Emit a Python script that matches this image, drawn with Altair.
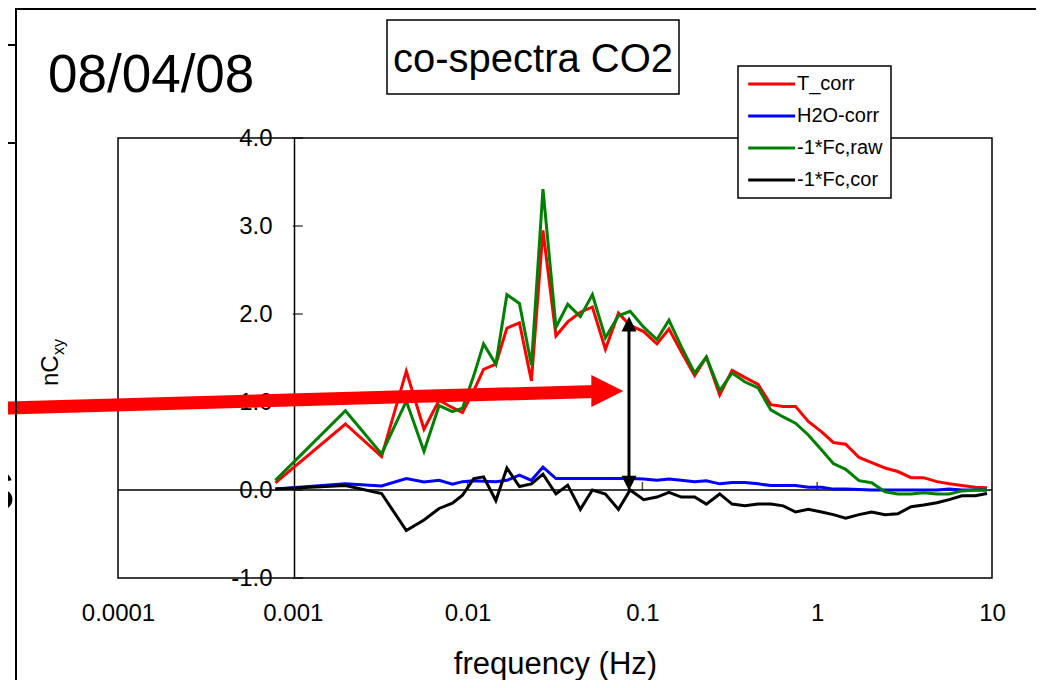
import altair as alt
import pandas as pd

# ---------------- data ----------------
freq = [0.000795, 0.00200, 0.00322, 0.00446, 0.00563, 0.00687, 0.00819, 0.00935, 0.01085, 0.01234,
        0.01451, 0.01678, 0.01979, 0.02318, 0.02699, 0.03203, 0.03739, 0.04417, 0.05175, 0.06143,
        0.07295, 0.08511, 0.1017, 0.1211, 0.1419, 0.1669, 0.1990, 0.2322, 0.2768, 0.3260,
        0.3849, 0.4595, 0.5425, 0.6391, 0.7517, 0.8892, 1.060, 1.237, 1.455, 1.734,
        2.050, 2.444, 2.891, 3.446, 4.059, 4.838, 5.691, 6.730, 8.020, 9.361]

t_corr = [0.08, 0.75, 0.38, 1.35, 0.69, 1.02, 0.935, 0.88, 1.13, 1.37,
          1.43, 1.84, 1.90, 1.24, 2.95, 1.75, 1.91, 2.02, 2.08, 1.60,
          2.01, 1.87, 1.80, 1.66, 1.83, 1.57, 1.30, 1.51, 1.08, 1.36,
          1.28, 1.20, 0.97, 0.95, 0.95, 0.78, 0.66, 0.54, 0.52, 0.37,
          0.31, 0.25, 0.21, 0.14, 0.14, 0.095, 0.07, 0.05, 0.03, 0.025]

h2o_corr = [0.01, 0.07, 0.045, 0.13, 0.09, 0.11, 0.065, 0.095, 0.105, 0.10,
            0.095, 0.11, 0.17, 0.11, 0.26, 0.13, 0.13, 0.13, 0.13, 0.13,
            0.13, 0.13, 0.125, 0.11, 0.125, 0.11, 0.095, 0.105, 0.07, 0.085,
            0.085, 0.07, 0.05, 0.05, 0.05, 0.03, 0.03, 0.01, 0.01, 0.005,
            0.0, 0.0, 0.0, 0.0, 0.0, 0.0, 0.01, 0.0, 0.0, 0.0]

fc_raw = [0.11, 0.90, 0.41, 1.01, 0.44, 0.96, 0.89, 0.93, 1.30, 1.66,
          1.43, 2.22, 2.12, 1.42, 3.42, 1.85, 2.11, 1.97, 2.22, 1.73,
          1.98, 2.03, 1.85, 1.71, 1.93, 1.63, 1.33, 1.51, 1.13, 1.33,
          1.23, 1.16, 0.91, 0.83, 0.76, 0.625, 0.455, 0.30, 0.235, 0.106,
          0.083, -0.02, -0.045, -0.045, -0.03, -0.045, -0.045, -0.01, 0.0, 0.0]

fc_cor = [0.01, 0.05, -0.04, -0.46, -0.34, -0.21, -0.15, -0.06, 0.13, 0.15,
          -0.12, 0.25, 0.04, 0.07, 0.18, -0.045, 0.055, -0.22, 0.0, -0.045,
          -0.22, 0.0, -0.11, -0.08, -0.027, -0.08, -0.08, -0.16, -0.045, -0.16,
          -0.18, -0.16, -0.16, -0.18, -0.25, -0.22, -0.25, -0.28, -0.32, -0.28,
          -0.25, -0.28, -0.27, -0.19, -0.17, -0.145, -0.11, -0.065, -0.065, -0.04]

series_names = ["T_corr", "H2O-corr", "-1*Fc,raw", "-1*Fc,cor"]
series_colors = ["#ff0000", "#0000ff", "#008000", "#000000"]

x_tick_values = [0.0001, 0.001, 0.01, 0.1, 1, 10]
y_tick_values = [-1, 0, 1, 2, 3, 4]
x_inner_ticks = [0.01, 0.1, 1]

# annotation arrows (in data coordinates)
red_arrow_freq = [0.000021, 0.0544]
red_arrow_val = [0.93, 1.12]
red_head_freq = [0.0630]
red_head_val = [1.125]
black_arrow_freq = [0.0838, 0.0838]
black_arrow_val = [1.90, 0.07]
black_head_top = [1.885]
black_head_bottom = [0.077]

FONT = "Liberation Sans"

# ---------------- tables ----------------
rows = []
for name, vals in zip(series_names, [t_corr, h2o_corr, fc_raw, fc_cor]):
    for f, v in zip(freq, vals):
        rows.append({"freq": f, "value": v, "series": name})
df = pd.DataFrame(rows)

xscale = alt.Scale(type="log", domain=[0.0001, 10], nice=False)
yscale = alt.Scale(domain=[-1, 4], nice=False)

xaxis = alt.Axis(values=x_tick_values, format=".4~f", domain=False, ticks=False, grid=False,
                 labelPadding=23, labelFontSize=24, labelFlush=False, labelColor="black",
                 title="frequency (Hz)", titleFontSize=31, titleFontWeight="normal",
                 titlePadding=24, titleColor="black")
yaxis = alt.Axis(values=y_tick_values, offset=-176, ticks=False, grid=False,
                 domainColor="black", domainWidth=1.5, labelPadding=22, labelFontSize=24,
                 labelFlush=False, labelColor="black", title=None,
                 labelExpr="datum.value < 0 ? '-' + format(-datum.value, '.1f') : format(datum.value, '.1f')")

X = alt.X("freq:Q", scale=xscale, axis=xaxis)
Y = alt.Y("value:Q", scale=yscale, axis=yaxis)

lines = alt.Chart(df).mark_line(strokeWidth=3, clip=False).encode(
    x=X, y=Y,
    color=alt.Color("series:N", sort=series_names,
                    scale=alt.Scale(domain=series_names, range=series_colors),
                    legend=alt.Legend(title=None, orient="none", legendX=620, legendY=-72,
                                      symbolType="M-1,0L5,0", symbolSize=245,
                                      symbolStrokeWidth=3, labelFontSize=20, labelOffset=31,
                                      padding=8, strokeColor="black", fillColor="white",
                                      rowPadding=12, labelLimit=0, labelColor="black")),
)

zero_rule = alt.Chart(pd.DataFrame({"value": [0]})).mark_rule(color="black", strokeWidth=1.5).encode(y=Y)

xt = alt.Chart(pd.DataFrame({"freq": x_inner_ticks, "value": [0] * len(x_inner_ticks)})).mark_tick(
    orient="vertical", size=8, yOffset=-4, thickness=1.5, color="black").encode(x=X, y=Y)
yt = alt.Chart(pd.DataFrame({"freq": [0.001] * len(y_tick_values), "value": y_tick_values})).mark_tick(
    orient="horizontal", size=10, xOffset=5, thickness=1.5, color="black").encode(x=X, y=Y)

red_shaft = alt.Chart(pd.DataFrame({"freq": red_arrow_freq, "value": red_arrow_val})).mark_line(
    color="#ff0000", strokeWidth=13, clip=False).encode(x=X, y=Y)
red_head = alt.Chart(pd.DataFrame({"freq": red_head_freq, "value": red_head_val})).mark_point(
    shape="M-1,-1L1,0L-1,1Z", size=1024, filled=True, color="#ff0000", opacity=1).encode(x=X, y=Y)

black_shaft = alt.Chart(pd.DataFrame({"freq": black_arrow_freq, "value": black_arrow_val})).mark_line(
    color="black", strokeWidth=3).encode(x=X, y=Y)
black_head1 = alt.Chart(pd.DataFrame({"freq": [black_arrow_freq[0]], "value": black_head_top})).mark_point(
    shape="M0,-1L1,1L-1,1Z", size=225, filled=True, color="black", opacity=1).encode(x=X, y=Y)
black_head2 = alt.Chart(pd.DataFrame({"freq": [black_arrow_freq[0]], "value": black_head_bottom})).mark_point(
    shape="M0,1L1,-1L-1,-1Z", size=225, filled=True, color="black", opacity=1).encode(x=X, y=Y)

one = pd.DataFrame({"k": [0]})

title_box = alt.Chart(one).mark_rect(fill="white", stroke="black", strokeWidth=1.5).encode(
    x=alt.value(269), x2=alt.value(561), y=alt.value(-118), y2=alt.value(-44))
title_text = alt.Chart(pd.DataFrame({"t": ["co-spectra CO2"]})).mark_text(
    fontSize=40, font=FONT, align="center", baseline="alphabetic", color="black").encode(
    text="t:N", x=alt.value(415), y=alt.value(-66))
date_text = alt.Chart(pd.DataFrame({"t": ["08/04/08"]})).mark_text(
    fontSize=53, font=FONT, align="left", baseline="alphabetic", color="black").encode(
    text="t:N", x=alt.value(-70), y=alt.value(-46))
ylab1 = alt.Chart(pd.DataFrame({"t": ["nC"]})).mark_text(
    fontSize=24, font=FONT, align="left", baseline="alphabetic", angle=270, color="black").encode(
    text="t:N", x=alt.value(-60), y=alt.value(248))
ylab2 = alt.Chart(pd.DataFrame({"t": ["xy"]})).mark_text(
    fontSize=16, font=FONT, align="left", baseline="alphabetic", angle=270, color="black").encode(
    text="t:N", x=alt.value(-54), y=alt.value(217))
big_s = alt.Chart(pd.DataFrame({"t": ["S"]})).mark_text(
    fontSize=55, font=FONT, align="right", baseline="alphabetic", color="black").encode(
    text="t:N", x=alt.value(-103), y=alt.value(372))

frame_v = alt.Chart(one).mark_rule(color="black", strokeWidth=2).encode(
    x=alt.value(-102), y=alt.value(-131), y2=alt.value(560))
frame_top = alt.Chart(one).mark_rule(color="black", strokeWidth=2).encode(
    x=alt.value(-102), x2=alt.value(930), y=alt.value(-129))
frame_h1 = alt.Chart(one).mark_rule(color="black", strokeWidth=2).encode(
    x=alt.value(-120), x2=alt.value(-102), y=alt.value(-93))
frame_h2 = alt.Chart(one).mark_rule(color="black", strokeWidth=2).encode(
    x=alt.value(-120), x2=alt.value(-102), y=alt.value(5))

chart = alt.layer(
    zero_rule, xt, yt, lines, red_shaft, red_head, black_shaft, black_head1, black_head2,
    title_box, title_text, date_text, ylab1, ylab2, big_s, frame_v, frame_top, frame_h1, frame_h2
).properties(
    width=874, height=440,
    autosize=alt.AutoSizeParams(type="none"),
    padding={"left": 110, "top": 130, "right": 44, "bottom": 102},
).configure(
    font=FONT
).configure_view(
    stroke="black", strokeWidth=1.5
).configure_legend(
    strokeWidth=1.5
)

chart.save("out.html", embed_options={"renderer": "svg", "actions": False})
